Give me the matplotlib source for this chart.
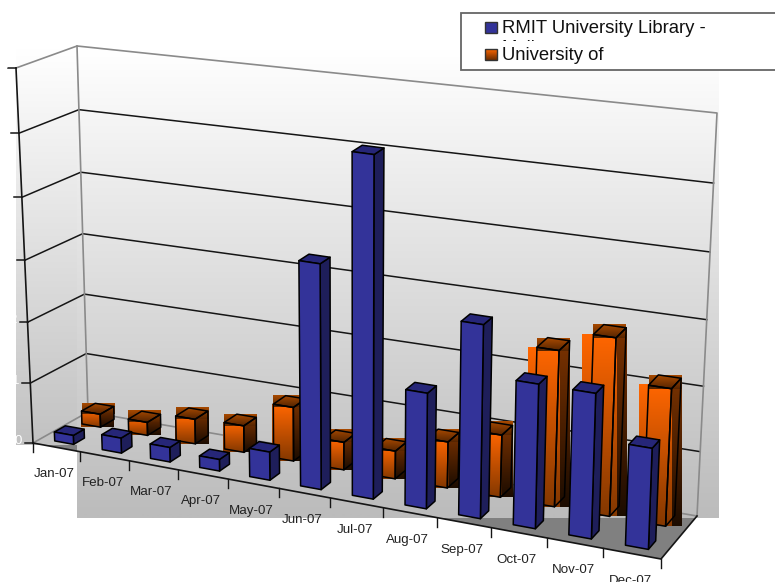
"""Monthly usage of two libraries, drawn as a hand-projected 3D column chart"""

import numpy as np
from matplotlib import pyplot as plt
from matplotlib.colors import to_rgb
from matplotlib.patches import Polygon, Rectangle

months = ['Jan-07', 'Feb-07', 'Mar-07', 'Apr-07', 'May-07', 'Jun-07',
          'Jul-07', 'Aug-07', 'Sep-07', 'Oct-07', 'Nov-07', 'Dec-07']
rmit = [0.15, 0.25, 0.24, 0.19, 0.46, 3.57, 5.33, 1.83, 3.02, 2.25, 2.25, 1.56]
other = [0.22, 0.22, 0.41, 0.44, 0.88, 0.45, 0.45, 0.74, 0.99, 2.44, 2.76, 2.12]
value_ticks = [0, 1, 2, 3, 4, 5, 6]

plt.rcParams['font.family'] = ['Liberation Sans', 'DejaVu Sans']

# Corners of the chart box on the canvas, in pixels.
FL, FR, BL, BR = np.array([(33, 443), (661, 559), (88, 412), (697, 516)], float)
FL_TOP, FR_TOP, BL_TOP, BR_TOP = np.array(
    [(16, 68), (676, 154), (77, 46), (717, 113)], float)


def project(cat, depth, value):
    """Category, depth (0 front, 1 back) and value to a canvas position."""
    t = cat / len(months)
    s = 0.9 * t / (1 - 0.1 * t)  # perspective squeeze along the category axis
    u = value / value_ticks[-1]
    w = 0.95 * u / (1 - 0.05 * u)  # and the same going up
    low = (FL * (1 - s) + FR * s) * (1 - depth) + (BL * (1 - s) + BR * s) * depth
    high = (FL_TOP * (1 - s) + FR_TOP * s) * (1 - depth) \
        + (BL_TOP * (1 - s) + BR_TOP * s) * depth
    return low + (high - low) * w


def gradient_rect(x0, y0, x1, y1, top, bottom, zorder):
    mix = np.linspace(0, 1, 64)[:, None, None]
    img = np.array(to_rgb(top))[None, None, :] * (1 - mix) \
        + np.array(to_rgb(bottom))[None, None, :] * mix
    ax.imshow(img, extent=(x0, x1, y1, y0), aspect='auto', origin='upper',
              interpolation='bilinear', zorder=zorder)


def bbox(points):
    pts = np.array(points)
    return pts[:, 0].min(), pts[:, 1].min(), pts[:, 0].max(), pts[:, 1].max()


def outline(points, zorder, fill='none'):
    ax.add_patch(Polygon(points, closed=True, facecolor=fill, edgecolor='black',
                         linewidth=1.1, zorder=zorder, joinstyle='round'))


def bar_faces(cat, d0, value, shift=0.0, depth=0.2):
    c0, c1 = cat + 0.29 + shift, cat + 0.69 + shift
    d1 = d0 + depth
    front = [project(c0, d0, 0), project(c1, d0, 0),
             project(c1, d0, value), project(c0, d0, value)]
    side = [project(c1, d0, 0), project(c1, d1, 0),
            project(c1, d1, value), project(c1, d0, value)]
    top = [project(c0, d0, value), project(c1, d0, value),
           project(c1, d1, value), project(c0, d1, value)]
    return front, side, top


fig = plt.figure(figsize=(7.75, 5.82), dpi=100)
ax = fig.add_axes([0, 0, 1, 1])

# Floor first: the wall panels paint over all of it except the lower right.
ax.add_patch(Polygon([FL, FR, BR, BL], closed=True, facecolor='#808080',
                     edgecolor='none', zorder=1))
gradient_rect(16, 46, 77, 445, '#ffffff', '#c2c2c2', 2)
gradient_rect(77, 46, 719, 518, '#ffffff', '#bcbcbc', 2)

# Walls and gridlines
for v in value_ticks[1:-1]:
    ax.plot(*zip(project(0, 0, v), project(0, 1, v), project(len(months), 1, v)),
            color='#151515', lw=1.1, zorder=3)
for path in ([FL_TOP, BL_TOP, BR_TOP, BR, BL, FL], [BL_TOP, BL]):
    ax.plot(*zip(*path), color='#8a8a8a', lw=1.2, zorder=3)

# Value axis, its labels are white and only show against the grey panel
ax.plot(*zip(FL, FL_TOP), color='#151515', lw=1.2, zorder=3)
for v in value_ticks:
    x, y = project(0, 0, v)
    ax.plot([x - 8, x], [y, y], color='#151515', lw=1.1, zorder=3)
    ax.text(max(x - 11, 8), y - 2, str(v), color='white', fontsize=9.5, ha='right',
            va='center', zorder=3)

# Second series sits in the back row
for i, val in enumerate(other):
    front, side, top = bar_faces(i, 0.68, val, shift=-0.04, depth=0.25)
    x0, y0, x1, y1 = bbox(front)
    z = 4 + i * 0.01
    gradient_rect(*bbox(side), '#7a3200', '#1c0c00', z)
    gradient_rect(x0 - 0.03 * (y1 - y0), y0, x1, y1, '#ff6600', '#843800', z)
    gradient_rect(*bbox(top), '#a84a00', '#552400', z)
    outline(front, z + 0.001)
    outline(side, z + 0.001)
    outline(top, z + 0.001)

# First series in the front row
for i, val in enumerate(rmit):
    front, side, top = bar_faces(i, 0.147, val)
    z = 5 + i * 0.01
    outline(side, z, '#1e1e5a')
    outline(top, z, '#262678')
    outline(front, z, '#333399')

# Category axis along the front of the floor
ax.plot(*zip(FL, FR, BR), color='#151515', lw=1.2, zorder=6)
for i in range(len(months) + 1):
    x, y = project(i, 0, 0)
    ax.plot([x, x], [y, y + 9], color='#151515', lw=1.0, zorder=6)
for i, name in enumerate(months):
    x, y = project(i + 0.5, 0, 0)
    ax.text(x - 2, y + 27, name, fontsize=9.6, color='#222222', ha='center',
            va='center', zorder=6)

# Legend box runs off the right of the canvas, its long entry is cut short
ax.add_patch(Rectangle((461, 13), 330, 57, facecolor='white', edgecolor='#666666',
                       linewidth=1.3, zorder=7))
ax.add_patch(Rectangle((485, 22), 12, 11, facecolor='#333399', edgecolor='#333333',
                       linewidth=1, zorder=8))
gradient_rect(485, 49, 497, 60, '#ff6600', '#6a2c00', 8)
ax.add_patch(Rectangle((485, 49), 12, 11, facecolor='none', edgecolor='#333333',
                       linewidth=1, zorder=8))
ax.text(501.5, 33, 'RMIT University Library -', fontsize=13.3, color='#111111',
        va='baseline', zorder=9)
cut = ax.text(501.5, 53, 'Melbourne', fontsize=13.3, color='#111111', va='baseline',
              zorder=9, clip_on=True)
cut.set_clip_path(Rectangle((495, 36), 80, 5, transform=ax.transData))
ax.text(501.5, 60, 'University of', fontsize=13.3, color='#111111', va='baseline',
        zorder=9)

ax.set_xlim(0, 775)
ax.set_ylim(582, 0)
ax.axis('off')

fig.savefig('out.png', dpi=100)
